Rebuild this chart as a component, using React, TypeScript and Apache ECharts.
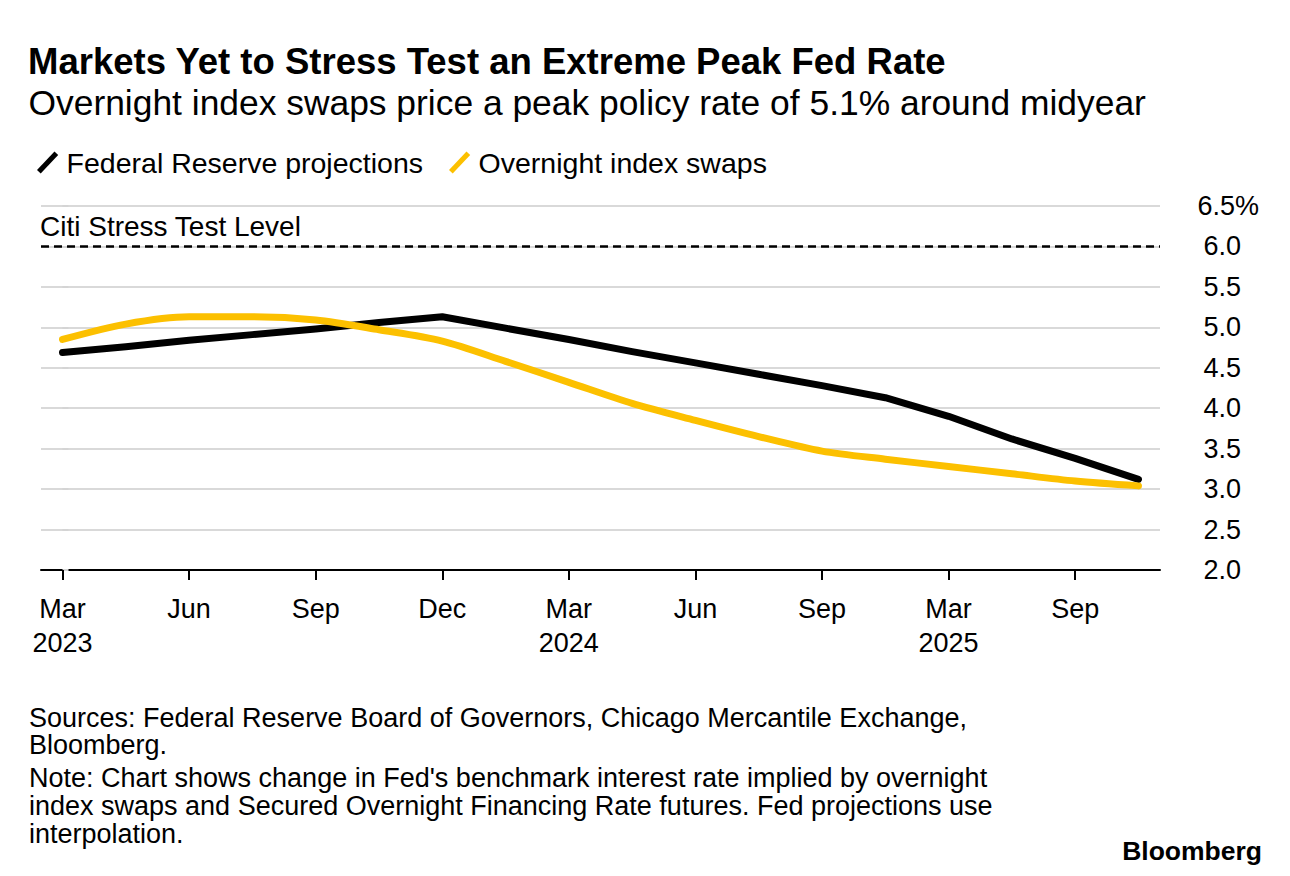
import React, { useEffect, useRef } from 'react';
import * as echarts from 'echarts';

// Period represented by each x position (index on the axis)
const periods = [
  'Mar 2023', 'Apr 2023', 'Jun 2023', 'Jul 2023', 'Sep 2023', 'Nov 2023', 'Dec 2023',
  'Jan 2024', 'Mar 2024', 'May 2024', 'Jun 2024', 'Jul 2024', 'Sep 2024',
  'Dec 2024', 'Mar 2025', 'Jun 2025', 'Sep 2025', 'Dec 2025',
];

// Federal Reserve projections (%)
const fedProjections = [
  4.69, 4.76, 4.84, 4.91, 4.98, 5.06, 5.13,
  4.99, 4.85, 4.70, 4.56, 4.42, 4.28,
  4.13, 3.90, 3.62, 3.38, 3.12,
];

// Overnight index swaps (%)
const oisPricing = [
  4.85, 5.04, 5.13, 5.13, 5.09, 4.97, 4.83,
  4.58, 4.32, 4.06, 3.85, 3.65, 3.47,
  3.37, 3.28, 3.19, 3.10, 3.04,
];

// X tick positions and labels
const tickIndexes = [0, 2, 4, 6, 8, 10, 12, 14, 16];
const tickLabels = ['Mar\n2023', 'Jun', 'Sep', 'Dec', 'Mar\n2024', 'Jun', 'Sep', 'Mar\n2025', 'Sep'];

const stressLevel = 6.0;
const yMin = 2.0;
const yMax = 6.5;
const yStep = 0.5;

const FONT = "'Liberation Sans', Arial, Helvetica, sans-serif";
const YELLOW = '#FCC000';

export default function App() {
  const ref = useRef<HTMLDivElement>(null);

  useEffect(() => {
    if (!ref.current) return;
    const chart = echarts.init(ref.current, null, { renderer: 'svg' });

    chart.setOption({
      animation: false,
      backgroundColor: '#ffffff',
      textStyle: { fontFamily: FONT },
      grid: { left: 41, right: 130, top: 206, bottom: 306, outerBoundsMode: 'none' },
      legend: {
        left: 32,
        top: 143,
        itemWidth: 22,
        itemHeight: 22,
        itemGap: 26,
        selectedMode: false,
        icon: 'path://M0.2,18.3 L17.2,0.3 L20.8,3.7 L3.8,21.7 Z',
        itemStyle: { borderWidth: 0 },
        textStyle: { fontFamily: FONT, fontSize: 28.5, color: '#000', padding: [0, 0, 0, 3] },
        data: ['Federal Reserve projections', 'Overnight index swaps'],
      },
      xAxis: {
        type: 'value',
        min: -0.34,
        max: periods.length - 1 + 0.34,
        splitLine: { show: false },
        axisLine: { show: true, onZero: false, lineStyle: { color: '#000', width: 2 } },
        axisTick: {
          show: true,
          customValues: tickIndexes,
          length: 10,
          lineStyle: { color: '#000', width: 2 },
        },
        axisLabel: {
          customValues: tickIndexes,
          margin: 22,
          fontFamily: FONT,
          fontSize: 27,
          lineHeight: 34,
          color: '#000',
          formatter: (v: number) => {
            const k = tickIndexes.indexOf(Math.round(v));
            return k >= 0 ? tickLabels[k] : '';
          },
        },
      },
      yAxis: {
        type: 'value',
        position: 'right',
        offset: 21,
        min: yMin,
        max: yMax,
        interval: yStep,
        axisLine: { show: false },
        axisTick: { show: true, length: 6, lineStyle: { color: '#d4d4d4', width: 2 } },
        splitLine: { show: true, lineStyle: { color: '#d9d9d9', width: 2 } },
        axisLabel: {
          margin: 78,
          align: 'right',
          color: '#000',
          fontFamily: FONT,
          fontSize: 27,
          formatter: (v: number) => (v === yMax ? '{p|' + v.toFixed(1) + '%}' : '{n|' + v.toFixed(1) + '}'),
          rich: {
            p: { fontFamily: FONT, fontSize: 27, color: '#000' },
            n: { fontFamily: FONT, fontSize: 27, color: '#000', padding: [0, 18, 0, 0] },
          },
        },
      },
      series: [
        {
          name: 'Federal Reserve projections',
          type: 'line',
          data: fedProjections.map((v, i) => [i, v]),
          showSymbol: false,
          symbol: 'none',
          color: '#000',
          itemStyle: { color: '#000' },
          lineStyle: { color: '#000', width: 7, cap: 'round', join: 'round' },
          markLine: {
            silent: true,
            symbol: ['none', 'none'],
            label: { show: false },
            lineStyle: { color: '#000', width: 2.5, type: [8, 5] },
            data: [{ yAxis: stressLevel }],
          },
          z: 3,
        },
        {
          name: 'Overnight index swaps',
          type: 'line',
          data: oisPricing.map((v, i) => [i, v]),
          showSymbol: false,
          symbol: 'none',
          smooth: 0.3,
          color: YELLOW,
          itemStyle: { color: YELLOW },
          lineStyle: { color: YELLOW, width: 7, cap: 'round', join: 'round' },
          z: 4,
        },
      ],
      graphic: [
        {
          type: 'text',
          x: 28,
          y: 61,
          style: {
            text: 'Markets Yet to Stress Test an Extreme Peak Fed Rate',
            fontFamily: FONT,
            fontSize: 36.5,
            fontWeight: 'bold',
            fill: '#000',
            verticalAlign: 'middle',
          },
        },
        {
          type: 'text',
          x: 28.5,
          y: 102.5,
          style: {
            text: 'Overnight index swaps price a peak policy rate of 5.1% around midyear',
            fontFamily: FONT,
            fontSize: 35.4,
            fill: '#000',
            verticalAlign: 'middle',
          },
        },
        {
          type: 'text',
          x: 40,
          y: 226.5,
          style: {
            text: 'Citi Stress Test Level',
            fontFamily: FONT,
            fontSize: 28,
            fill: '#000',
            verticalAlign: 'middle',
          },
        },
        {
          type: 'text',
          x: 29,
          y: 704,
          style: {
            text: 'Sources: Federal Reserve Board of Governors, Chicago Mercantile Exchange,\nBloomberg.',
            fontFamily: FONT,
            fontSize: 27,
            lineHeight: 27.5,
            fill: '#000',
            verticalAlign: 'top',
          },
        },
        {
          type: 'text',
          x: 29,
          y: 764,
          style: {
            text:
              "Note: Chart shows change in Fed's benchmark interest rate implied by overnight\nindex swaps and Secured Overnight Financing Rate futures. Fed projections use\ninterpolation.",
            fontFamily: FONT,
            fontSize: 27,
            lineHeight: 28,
            fill: '#000',
            verticalAlign: 'top',
          },
        },
        {
          type: 'text',
          x: 1262,
          y: 851,
          style: {
            text: 'Bloomberg',
            fontFamily: FONT,
            fontSize: 26.5,
            fontWeight: 'bold',
            fill: '#000',
            align: 'right',
            verticalAlign: 'middle',
          },
        },
      ],
    });

    return () => chart.dispose();
  }, []);

  return (
    <div
      ref={ref}
      style={{ position: 'fixed', left: 0, top: 0, width: 1290, height: 876, background: '#fff' }}
    />
  );
}
